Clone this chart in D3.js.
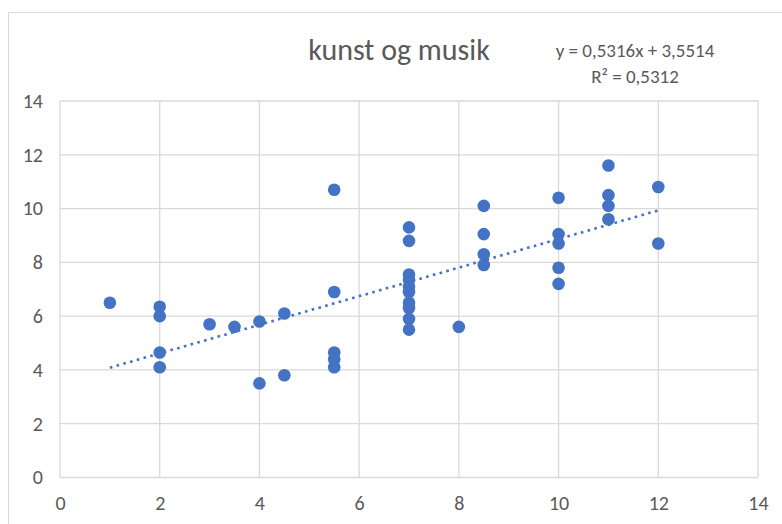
<!DOCTYPE html>
<html>
<head>
<meta charset="utf-8">
<script src="https://cdn.jsdelivr.net/npm/d3@7"></script>
<style>
  body { margin: 0; background: #fff; }
  svg text { font-family: "Carlito", "Liberation Sans Narrow", "DejaVu Sans Condensed", sans-serif; fill: #595959; }
</style>
</head>
<body>
<svg id="chart" width="782" height="524"></svg>
<script>
// Scatter data: x = kunst, y = musik
var xs = [1, 2, 2, 2, 2, 3, 3.5, 4, 4, 4.5, 4.5,
          5.5, 5.5, 5.5, 5.5, 5.5,
          7, 7, 7, 7, 7, 7, 7, 7, 7, 7,
          8, 8.5, 8.5, 8.5, 8.5,
          10, 10, 10, 10, 10,
          11, 11, 11, 11, 12, 12];
var ys = [6.5, 6.35, 6.0, 4.65, 4.1, 5.7, 5.6, 5.8, 3.5, 6.1, 3.8,
          10.7, 6.9, 4.65, 4.4, 4.1,
          9.3, 8.8, 7.55, 7.35, 7.1, 6.9, 6.5, 6.3, 5.9, 5.5,
          5.6, 10.1, 9.05, 8.3, 7.9,
          10.4, 9.05, 8.7, 7.8, 7.2,
          11.6, 10.5, 10.1, 9.6, 10.8, 8.7];

// Trendline as given in the label
var slope = 0.5316, intercept = 3.5514;
var trendLabel = ["y = 0,5316x + 3,5514", "R² = 0,5312"];
var ticks = [0, 2, 4, 6, 8, 10, 12, 14];
var title = "kunst og musik";

var svg = d3.select("#chart");

var x = d3.scaleLinear().domain([0, 14]).range([60, 758]);
var y = d3.scaleLinear().domain([0, 14]).range([477.5, 101]);

// Chart area border (runs off the right and bottom edge)
svg.append("rect")
    .attr("x", 8.5).attr("y", 12.5)
    .attr("width", 800).attr("height", 540)
    .attr("fill", "#fff").attr("stroke", "#d9d9d9");

// Gridlines
var grid = svg.append("g").attr("stroke", "#d9d9d9").attr("stroke-width", 1.3);
grid.selectAll(".gx").data(ticks).join("line")
    .attr("x1", function (d) { return x(d); }).attr("x2", function (d) { return x(d); })
    .attr("y1", y(0)).attr("y2", y(14));
grid.selectAll(".gy").data(ticks).join("line")
    .attr("y1", function (d) { return y(d); }).attr("y2", function (d) { return y(d); })
    .attr("x1", x(0)).attr("x2", x(14));

// Axes (labels only, lines come from the grid)
var xAxis = svg.append("g")
    .attr("transform", "translate(0," + y(0) + ")")
    .call(d3.axisBottom(x).tickValues(ticks).tickSize(0).tickPadding(18).tickFormat(d3.format("d")));
var yAxis = svg.append("g")
    .attr("transform", "translate(" + x(0) + ",0)")
    .call(d3.axisLeft(y).tickValues(ticks).tickSize(0).tickPadding(17).tickFormat(d3.format("d")));
[xAxis, yAxis].forEach(function (a) {
    a.select(".domain").remove();
    a.selectAll("text").attr("font-size", 20).attr("font-family", null).attr("fill", "#595959");
    a.attr("font-family", null);
});

// Trendline
svg.append("line")
    .attr("x1", x(1)).attr("y1", y(slope * 1 + intercept))
    .attr("x2", x(12)).attr("y2", y(slope * 12 + intercept))
    .attr("stroke", "#4472c4").attr("stroke-width", 2.6)
    .attr("stroke-dasharray", "2.6 4.4");

// Points
svg.append("g").selectAll("circle").data(xs).join("circle")
    .attr("cx", function (d) { return x(d); })
    .attr("cy", function (d, i) { return y(ys[i]); })
    .attr("r", 6.3)
    .attr("fill", "#4472c4");

// Title
svg.append("text")
    .attr("x", 399).attr("y", 60)
    .attr("text-anchor", "middle")
    .attr("font-size", 30)
    .style("font-weight", 300)
    .text(title);

// Trendline label
svg.append("g").selectAll("text").data(trendLabel).join("text")
    .attr("x", 635)
    .attr("y", function (d, i) { return 57 + i * 26; })
    .attr("text-anchor", "middle")
    .attr("font-size", 19)
    .text(function (d) { return d; });
</script>
</body>
</html>
